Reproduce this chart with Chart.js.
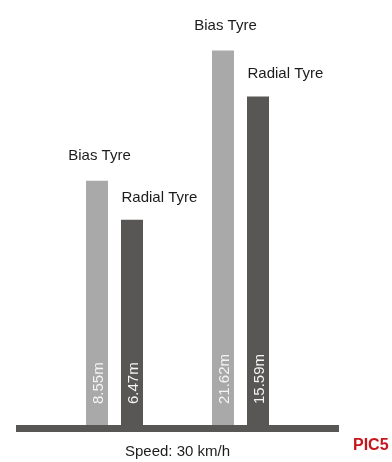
<!DOCTYPE html>
<html>
<head>
<meta charset="utf-8">
<script src="https://cdn.jsdelivr.net/npm/chart.js@4/dist/chart.umd.min.js"></script>
<style>
  html, body { margin: 0; padding: 0; background: #ffffff; }
  #wrap { width: 392px; height: 462px; position: relative; }
</style>
</head>
<body>
<div id="wrap"><canvas id="c" width="392" height="462"></canvas></div>
<script>
// ---- data ----
const categories = ['Test 1', 'Test 2'];
const seriesNames = ['Bias Tyre', 'Radial Tyre'];
const biasValues = [8.55, 21.62];
const radialValues = [6.47, 15.59];
const axisTitle = 'Speed: 30 km/h';
const badgeText = 'PIC5';
const unit = 'm';

const FONT = '"Liberation Sans", Arial, Helvetica, sans-serif';
const BIAS_COLOR = '#a9a9a9';
const RADIAL_COLOR = '#595755';

const labelPlugin = {
  id: 'labels',
  afterDatasetsDraw(chart) {
    const ctx = chart.ctx;
    const area = chart.chartArea;
    ctx.save();
    // baseline strip
    ctx.fillStyle = RADIAL_COLOR;
    ctx.fillRect(area.left - 35.5, area.bottom, (area.right - area.left) + 71, 7);

    chart.data.datasets.forEach((ds, i) => {
      const meta = chart.getDatasetMeta(i);
      meta.data.forEach((bar, j) => {
        // series name above bar
        ctx.font = '15px ' + FONT;
        ctx.fillStyle = '#1c1c1c';
        ctx.textBaseline = 'alphabetic';
        if (i === 0) {
          ctx.textAlign = 'center';
          ctx.fillText(ds.label, bar.x + 2.5, bar.y - 21);
        } else {
          ctx.textAlign = 'left';
          ctx.fillText(ds.label, bar.x - bar.width / 2 + 0.5, bar.y - 18);
        }
        // value inside bar, rotated
        ctx.save();
        ctx.translate(bar.x + 6, bar.base - 21);
        ctx.rotate(-Math.PI / 2);
        ctx.textAlign = 'left';
        ctx.fillStyle = '#f4f4f4';
        ctx.fillText(ds.data[j].toFixed(2) + unit, 0, 0);
        ctx.restore();
      });
    });

    // badge
    ctx.font = 'bold 16px ' + FONT;
    ctx.fillStyle = '#c8161d';
    ctx.textAlign = 'left';
    ctx.textBaseline = 'alphabetic';
    ctx.fillText(badgeText, 353, 449.5);
    ctx.restore();
  }
};

new Chart(document.getElementById('c'), {
  type: 'bar',
  data: {
    labels: categories,
    datasets: [
      { label: seriesNames[0], data: biasValues, backgroundColor: BIAS_COLOR, borderWidth: 0 },
      { label: seriesNames[1], data: radialValues, backgroundColor: RADIAL_COLOR, borderWidth: 0 }
    ]
  },
  options: {
    responsive: false,
    animation: false,
    devicePixelRatio: 1,
    categoryPercentage: 0.5556,
    barPercentage: 0.6286,
    layout: { padding: { left: 51.5, right: 88.5, top: 0, bottom: 0 } },
    plugins: { legend: { display: false }, tooltip: { enabled: false } },
    scales: {
      x: {
        offset: true,
        grid: { display: false, drawTicks: false },
        border: { display: false },
        ticks: { display: false },
        title: {
          display: true,
          text: axisTitle,
          color: '#1c1c1c',
          font: { family: FONT, size: 15 },
          padding: { top: 17.5, bottom: 1.5 }
        }
      },
      y: {
        type: 'logarithmic',
        display: false,
        min: 1.498,
        max: 31.0
      }
    }
  },
  plugins: [labelPlugin]
});
</script>
</body>
</html>
